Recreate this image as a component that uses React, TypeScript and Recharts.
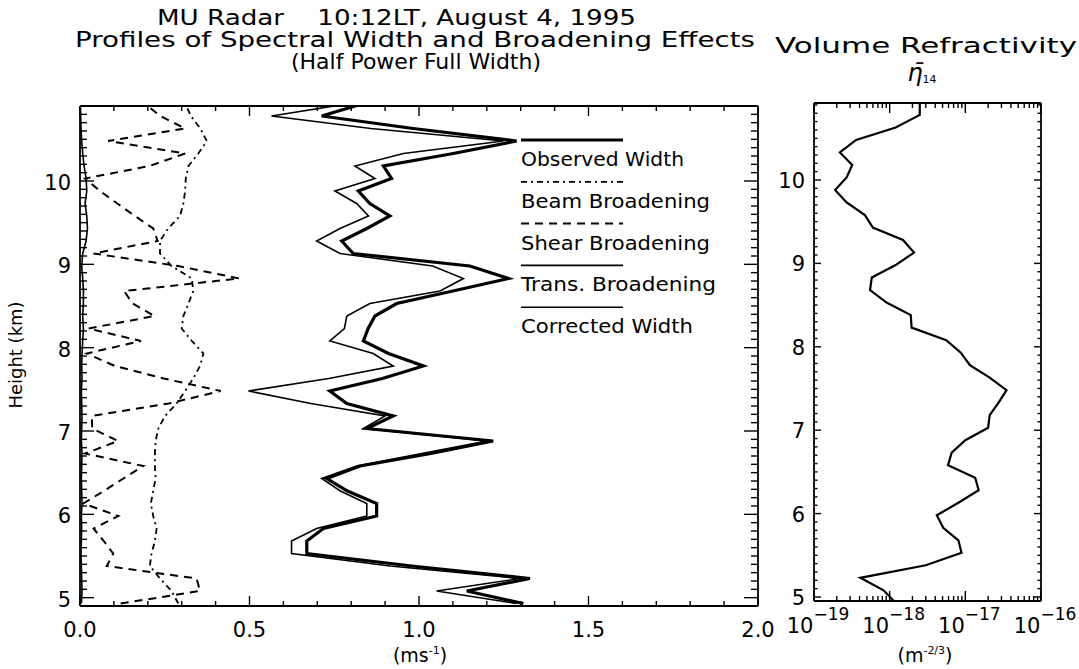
import React from "react";
import { ScatterChart, Scatter, XAxis, YAxis } from "recharts";

// range gates (km), bottom to top
const heights = [
  4.93, 5.08, 5.23, 5.38, 5.53, 5.68, 5.83, 5.98, 6.13, 6.28, 6.43, 6.58, 6.73, 6.88,
  7.03, 7.18, 7.33, 7.48, 7.63, 7.78, 7.93, 8.08, 8.23, 8.38, 8.53, 8.68, 8.83, 8.98,
  9.13, 9.28, 9.43, 9.58, 9.73, 9.88, 10.03, 10.18, 10.33, 10.48, 10.63, 10.78, 10.93,
];

// half power full width, m/s
const observedWidth = [
  1.308, 1.141, 1.327, 0.979, 0.669, 0.669, 0.718, 0.875, 0.875, 0.789, 0.728, 0.826, 1.035, 1.219,
  0.846, 0.924, 0.787, 0.737, 0.892, 1.013, 0.91, 0.836, 0.85, 0.87, 0.934, 1.1, 1.264, 1.15,
  0.806, 0.772, 0.846, 0.914, 0.855, 0.821, 0.919, 0.895, 1.101, 1.288, 0.983, 0.713, 0.836,
];
const beamBroadening = [
  0.29, 0.27, 0.236, 0.206, 0.211, 0.221, 0.226, 0.216, 0.209, 0.216, 0.223, 0.221, 0.221, 0.223,
  0.231, 0.251, 0.285, 0.31, 0.334, 0.354, 0.364, 0.33, 0.3, 0.305, 0.32, 0.334, 0.33, 0.27,
  0.236, 0.236, 0.26, 0.295, 0.305, 0.31, 0.312, 0.32, 0.349, 0.374, 0.355, 0.327, 0.31,
];
const shearBroadening = [
  0.12, 0.354, 0.344, 0.079, 0.098, 0.07, 0.04, 0.113, 0.01, 0.07, 0.128, 0.187, 0.015, 0.112,
  0.036, 0.035, 0.262, 0.415, 0.247, 0.103, 0.02, 0.18, 0.025, 0.22, 0.155, 0.13, 0.47, 0.29,
  0.04, 0.229, 0.216, 0.162, 0.11, 0.059, 0.015, 0.205, 0.31, 0.083, 0.31, 0.237, 0.19,
];
const transBroadening = [
  0.004, 0.006, 0.005, 0.004, 0.003, 0.004, 0.005, 0.004, 0.006, 0.005, 0.004, 0.005, 0.006, 0.004,
  0.005, 0.006, 0.005, 0.004, 0.006, 0.005, 0.006, 0.008, 0.01, 0.008, 0.01, 0.01, 0.008, 0.005,
  0.008, 0.018, 0.022, 0.02, 0.015, 0.02, 0.018, 0.012, 0.008, 0.005, 0.003, 0.002, 0.001,
];
const correctedWidth = [
  1.288, 1.052, 1.298, 0.915, 0.624, 0.624, 0.698, 0.846, 0.846, 0.768, 0.713, 0.816, 1.008, 1.2,
  0.836, 0.9, 0.681, 0.497, 0.734, 0.924, 0.865, 0.737, 0.78, 0.787, 0.855, 1.062, 1.131, 1.04,
  0.767, 0.698, 0.767, 0.851, 0.816, 0.752, 0.87, 0.811, 0.954, 1.249, 0.858, 0.565, 0.796,
];

// volume refractivity eta_14, m^-2/3
const refractivity = [
  1.2e-18, 8.3e-19, 4.1e-19, 3.0e-18, 8.9e-18, 8.1e-18, 5.1e-18, 4.2e-18, 8.1e-18, 1.5e-17, 1.35e-17,
  5.9e-18, 6.6e-18, 1.0e-17, 2.0e-17, 2.1e-17, 2.75e-17, 3.5e-17, 2.1e-17, 1.15e-17, 8.7e-18, 5.6e-18,
  1.95e-18, 1.9e-18, 9.1e-19, 5.5e-19, 5.8e-19, 1.2e-18, 2.1e-18, 1.5e-18, 6.0e-19, 4.7e-19, 2.7e-19,
  1.9e-19, 2.7e-19, 3.2e-19, 2.2e-19, 3.6e-19, 1.2e-18, 2.5e-18, 2.5e-18,
];

const widthTicks = [0, 0.5, 1.0, 1.5, 2.0];
const widthTickLabels = ["0.0", "0.5", "1.0", "1.5", "2.0"];
const heightTicks = [5, 6, 7, 8, 9, 10];
const refrTicks = [1e-19, 1e-18, 1e-17, 1e-16];
const refrTickExp = ["\u221219", "\u221218", "\u221217", "\u221216"];

const legendItems = [
  { label: "Observed Width", width: 3, dash: undefined, len: 163 },
  { label: "Beam Broadening", width: 1.8, dash: "6 4 2 4", len: 189 },
  { label: "Shear Broadening", width: 2, dash: "8 6", len: 189 },
  { label: "Trans. Broadening", width: 1.6, dash: undefined, len: 195 },
  { label: "Corrected Width", width: 1.6, dash: undefined, len: 172 },
];

const W = 1079;
const H = 669;
const FONT = "DejaVu Sans";

// left panel frame and height range
const L_TOP = 106;
const L_BOTTOM = 606;
const L_DOMAIN: [number, number] = [4.9, 10.9];
// right panel sits a few pixels higher in the original
const R_TOP = 103;
const R_BOTTOM = 601;
const R_DOMAIN: [number, number] = [4.952, 10.923];

const toPoints = (vals: number[]) => heights.map((h, i) => ({ x: vals[i], h }));

const widthAll = Array.from({ length: 21 }, (_, i) => i / 10);
const heightAll = Array.from({ length: 60 }, (_, i) => (50 + i) / 10);
const refrAll: number[] = [];
for (let d = -19; d <= -17; d++) for (let m = 1; m <= 9; m++) refrAll.push(Number(`${m}e${d}`));
refrAll.push(1e-16);

const isWidthMajor = (v: number) => widthTicks.some((t) => Math.abs(v - t) < 1e-6);
const isHeightMajor = (v: number) => heightTicks.some((t) => Math.abs(v - t) < 1e-6);
const isRefrMajor = (v: number) => refrTicks.some((t) => Math.abs(v / t - 1) < 1e-6);

type Side = "bottom" | "top" | "left" | "right";

function tickRenderer(
  side: Side,
  isMajor: (v: number) => boolean,
  majorLen: number,
  minorLen: number,
  label?: (v: number, x: number, y: number) => React.ReactNode
) {
  return (props: any) => {
    const { x, y, payload } = props;
    const v = payload.value;
    const major = isMajor(v);
    const len = major ? majorLen : minorLen;
    const dx = side === "left" ? len : side === "right" ? -len : 0;
    const dy = side === "bottom" ? -len : side === "top" ? len : 0;
    return (
      <g>
        <line x1={x} y1={y} x2={x + dx} y2={y + dy} stroke="#000" strokeWidth={1.4} />
        {major && label ? label(v, x, y) : null}
      </g>
    );
  };
}

const noDot = () => <g />;

const axisLine = { stroke: "#000", strokeWidth: 1.8 };

// axes are 1px thick boxes, so margins are 1px smaller than the frame position
function margins(left: number, right: number, top: number, bottom: number) {
  return { top: top - 1, bottom: H - bottom - 1, left: left - 1, right: W - right - 1 };
}

function SpectralPanel() {
  return (
    <ScatterChart width={W} height={H} margin={margins(80, 758, L_TOP, L_BOTTOM)}>
      <XAxis
        xAxisId="b" type="number" dataKey="x" domain={[0, 2]} allowDataOverflow orientation="bottom"
        ticks={widthAll} interval={0} height={1} tickSize={0} tickMargin={0} tickLine={false} axisLine={axisLine}
        tick={tickRenderer("bottom", isWidthMajor, 10, 5, (v, x, y) => (
          <text x={x} y={y + 31} textAnchor="middle" fontSize={21} fontFamily={FONT}>
            {widthTickLabels[widthTicks.findIndex((t) => Math.abs(t - v) < 1e-6)]}
          </text>
        ))}
      />
      <XAxis
        xAxisId="t" type="number" dataKey="x" domain={[0, 2]} allowDataOverflow orientation="top"
        ticks={widthAll} interval={0} height={1} tickSize={0} tickMargin={0} tickLine={false} axisLine={axisLine}
        tick={tickRenderer("top", isWidthMajor, 10, 5)}
      />
      <YAxis
        yAxisId="l" type="number" dataKey="h" domain={L_DOMAIN} allowDataOverflow orientation="left"
        ticks={heightAll} interval={0} width={1} tickSize={0} tickMargin={0} tickLine={false} axisLine={axisLine}
        tick={tickRenderer("left", isHeightMajor, 14, 7, (v, x, y) => (
          <text x={x - 9} y={y + 9} textAnchor="end" fontSize={21} fontFamily={FONT}>{v}</text>
        ))}
      />
      <YAxis
        yAxisId="r" type="number" dataKey="h" domain={L_DOMAIN} allowDataOverflow orientation="right"
        ticks={heightAll} interval={0} width={1} tickSize={0} tickMargin={0} tickLine={false} axisLine={axisLine}
        tick={tickRenderer("right", isHeightMajor, 14, 7)}
      />
      <Scatter xAxisId="b" yAxisId="l" data={toPoints(beamBroadening)} fill="#000" shape={noDot}
        line={{ stroke: "#000", strokeWidth: 1.8, strokeDasharray: "6 4 2 4" }} isAnimationActive={false} />
      <Scatter xAxisId="b" yAxisId="l" data={toPoints(shearBroadening)} fill="#000" shape={noDot}
        line={{ stroke: "#000", strokeWidth: 2, strokeDasharray: "8 6" }} isAnimationActive={false} />
      <Scatter xAxisId="b" yAxisId="l" data={toPoints(transBroadening)} fill="#000" shape={noDot}
        line={{ stroke: "#000", strokeWidth: 1.6 }} isAnimationActive={false} />
      <Scatter xAxisId="b" yAxisId="l" data={toPoints(observedWidth)} fill="#000" shape={noDot}
        line={{ stroke: "#000", strokeWidth: 3.2 }} isAnimationActive={false} />
      <Scatter xAxisId="b" yAxisId="l" data={toPoints(correctedWidth)} fill="#000" shape={noDot}
        line={{ stroke: "#000", strokeWidth: 1.6 }} isAnimationActive={false} />
    </ScatterChart>
  );
}

function RefractivityPanel() {
  return (
    <ScatterChart width={W} height={H} margin={margins(814, 1041, R_TOP, R_BOTTOM)}>
      <XAxis
        xAxisId="b" type="number" dataKey="x" scale="log" domain={[1e-19, 1e-16]} allowDataOverflow orientation="bottom"
        ticks={refrAll} interval={0} height={1} tickSize={0} tickMargin={0} tickLine={false} axisLine={axisLine}
        tick={tickRenderer("bottom", isRefrMajor, 10, 5, (v, x, y) => (
          <text x={x + 4} y={y + 32} textAnchor="middle" fontSize={21} fontFamily={FONT}>
            10
            <tspan dy={-13} fontSize={17}>{refrTickExp[refrTicks.findIndex((t) => Math.abs(v / t - 1) < 1e-6)]}</tspan>
          </text>
        ))}
      />
      <XAxis
        xAxisId="t" type="number" dataKey="x" scale="log" domain={[1e-19, 1e-16]} allowDataOverflow orientation="top"
        ticks={refrAll} interval={0} height={1} tickSize={0} tickMargin={0} tickLine={false} axisLine={axisLine}
        tick={tickRenderer("top", isRefrMajor, 10, 5)}
      />
      <YAxis
        yAxisId="l" type="number" dataKey="h" domain={R_DOMAIN} allowDataOverflow orientation="left"
        ticks={heightAll} interval={0} width={1} tickSize={0} tickMargin={0} tickLine={false} axisLine={axisLine}
        tick={tickRenderer("left", isHeightMajor, 7, 3.5, (v, x, y) => (
          <text x={x - 9} y={y + 8} textAnchor="end" fontSize={21} fontFamily={FONT}>{v}</text>
        ))}
      />
      <YAxis
        yAxisId="r" type="number" dataKey="h" domain={R_DOMAIN} allowDataOverflow orientation="right"
        ticks={heightAll} interval={0} width={1} tickSize={0} tickMargin={0} tickLine={false} axisLine={axisLine}
        tick={tickRenderer("right", isHeightMajor, 7, 3.5)}
      />
      <Scatter xAxisId="b" yAxisId="l" data={toPoints(refractivity)} fill="#000" shape={noDot}
        line={{ stroke: "#000", strokeWidth: 2.2 }} isAnimationActive={false} />
    </ScatterChart>
  );
}

function Annotations() {
  const legendTop = 140;
  const step = 41.8;
  return (
    <svg width={W} height={H} style={{ position: "absolute", left: 0, top: 0, pointerEvents: "none" }}
      fontFamily={FONT} fill="#000">
      <text x={157} y={25} fontSize={21} textLength={479} lengthAdjust="spacingAndGlyphs" style={{ whiteSpace: "pre" }}>
        {"MU Radar    10:12LT, August 4, 1995"}
      </text>
      <text x={75} y={47} fontSize={21} textLength={680} lengthAdjust="spacingAndGlyphs">
        Profiles of Spectral Width and Broadening Effects
      </text>
      <text x={291} y={69} fontSize={21} textLength={250} lengthAdjust="spacingAndGlyphs">(Half Power Full Width)</text>
      <text x={775} y={53} fontSize={21} textLength={302} lengthAdjust="spacingAndGlyphs">Volume Refractivity</text>
      <text x={922} y={81} textAnchor="middle" fontSize={24}>
        <tspan fontStyle="italic">{"\u03B7\u0304"}</tspan>
        <tspan fontSize={11} dy={2}>14</tspan>
      </text>
      <text x={22} y={355} textAnchor="middle" fontSize={18} transform="rotate(-90 22 355)">Height (km)</text>
      <text x={420} y={662} textAnchor="middle" fontSize={19}>
        (ms<tspan dy={-8} fontSize={11}>-1</tspan><tspan dy={8}>)</tspan>
      </text>
      <text x={925} y={662} textAnchor="middle" fontSize={19}>
        (m<tspan dy={-8} fontSize={11}>-2/3</tspan><tspan dy={8}>)</tspan>
      </text>
      {legendItems.map((it, i) => {
        const y = legendTop + i * step;
        return (
          <g key={it.label}>
            <line x1={521} x2={623} y1={y} y2={y} stroke="#000" strokeWidth={it.width} strokeDasharray={it.dash} />
            <text x={521} y={y + 26} fontSize={19} textLength={it.len} lengthAdjust="spacingAndGlyphs">{it.label}</text>
          </g>
        );
      })}
    </svg>
  );
}

export default function App() {
  return (
    <div style={{ position: "absolute", left: 0, top: 0, width: W, height: H, background: "#fff" }}>
      <div style={{ position: "absolute", left: 0, top: 0 }}>
        <SpectralPanel />
      </div>
      <div style={{ position: "absolute", left: 0, top: 0 }}>
        <RefractivityPanel />
      </div>
      <Annotations />
    </div>
  );
}
